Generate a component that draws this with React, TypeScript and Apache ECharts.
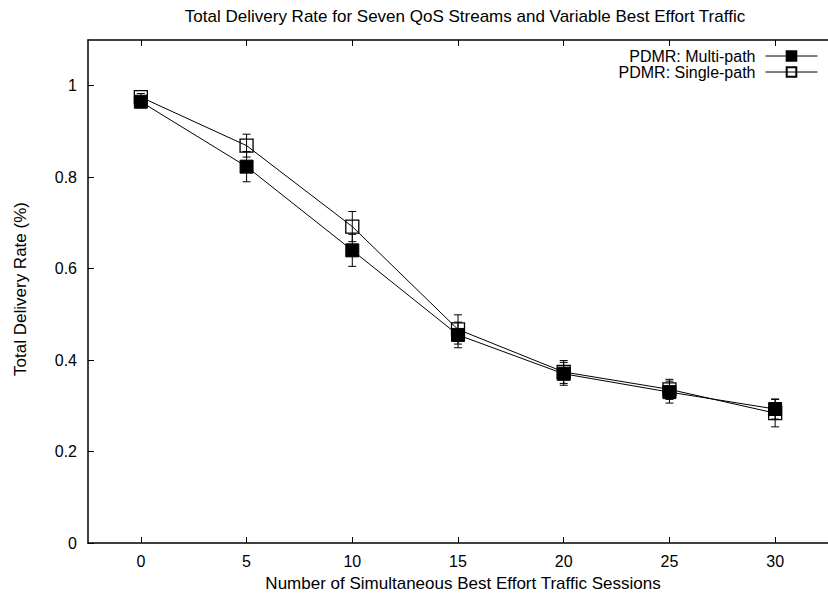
import React, { useEffect, useRef } from "react";
import * as echarts from "echarts";

// Number of simultaneous best-effort sessions (x values)
const sessions = [0, 5, 10, 15, 20, 25, 30];

// PDMR multi-path: mean delivery rate and half-width of its error bar
const multiPath = [0.965, 0.823, 0.64, 0.455, 0.37, 0.33, 0.293];
const multiPathErr = [0.008, 0.033, 0.035, 0.028, 0.025, 0.024, 0.022];

// PDMR single-path: mean delivery rate and half-width of its error bar
const singlePath = [0.975, 0.869, 0.692, 0.467, 0.374, 0.336, 0.284];
const singlePathErr = [0.008, 0.025, 0.033, 0.032, 0.025, 0.022, 0.03];

const xTicks = [0, 5, 10, 15, 20, 25, 30];
const yTicks = [0, 0.2, 0.4, 0.6, 0.8, 1];

const FONT = "Liberation Sans";
const GRID = { left: 88, top: 40, width: 750, height: 503 };

function errorBarSeries(name: string, values: number[], errs: number[], z: number) {
  return {
    type: "custom",
    name,
    z,
    silent: true,
    data: sessions.map((x, i) => [x, values[i] - errs[i], values[i] + errs[i]]),
    encode: { x: 0, y: [1, 2] },
    renderItem: (_params: any, api: any) => {
      const lo = api.coord([api.value(0), api.value(1)]);
      const hi = api.coord([api.value(0), api.value(2)]);
      const cap = 4;
      const style = { stroke: "#000", lineWidth: 1 };
      return {
        type: "group",
        children: [
          { type: "line", shape: { x1: lo[0], y1: lo[1], x2: hi[0], y2: hi[1] }, style },
          { type: "line", shape: { x1: lo[0] - cap, y1: lo[1], x2: lo[0] + cap, y2: lo[1] }, style },
          { type: "line", shape: { x1: hi[0] - cap, y1: hi[1], x2: hi[0] + cap, y2: hi[1] }, style },
        ],
      };
    },
  };
}

export default function App() {
  const ref = useRef<HTMLDivElement>(null);

  useEffect(() => {
    if (!ref.current) return;
    const chart = echarts.init(ref.current, null, { renderer: "svg" });

    const axisText = { fontFamily: FONT, fontSize: 16, color: "#000" };
    const frame = { show: true, onZero: false, lineStyle: { color: "#000", width: 1.5 } };
    const tick = { show: true, inside: true, length: 6, lineStyle: { color: "#000", width: 1 } };

    chart.setOption({
      animation: false,
      backgroundColor: "#fff",
      textStyle: { fontFamily: FONT },
      grid: { ...GRID, containLabel: false },
      legend: {
        orient: "vertical",
        right: 5,
        top: 43,
        align: "right",
        itemWidth: 52,
        itemHeight: 12,
        itemGap: 0,
        lineStyle: { width: 1 },
        textStyle: { ...axisText, lineHeight: 16, padding: [0, 5, 0, 0] },
        data: ["PDMR: Multi-path", "PDMR: Single-path"],
      },
      xAxis: [
        {
          type: "value",
          min: -2.5,
          max: 32.5,
          axisLine: frame,
          axisTick: { ...tick, customValues: xTicks },
          axisLabel: { ...axisText, margin: 10, customValues: xTicks },
          splitLine: { show: false },
        },
        {
          type: "value",
          position: "top",
          min: -2.5,
          max: 32.5,
          axisLine: frame,
          axisTick: { ...tick, customValues: xTicks },
          axisLabel: { show: false },
          splitLine: { show: false },
        },
      ],
      yAxis: {
        type: "value",
        min: 0,
        max: 1.1,
        axisLine: frame,
        axisTick: { ...tick, customValues: yTicks },
        axisLabel: { ...axisText, margin: 11, customValues: yTicks },
        splitLine: { show: false },
      },
      graphic: [
        {
          type: "text",
          x: 465,
          y: 16,
          style: {
            text: "Total Delivery Rate for Seven QoS Streams and Variable Best Effort Traffic",
            fontFamily: FONT,
            fontSize: 17,
            fill: "#000",
            align: "center",
            verticalAlign: "middle",
          },
        },
        {
          type: "text",
          x: 463,
          y: 583,
          style: {
            text: "Number of Simultaneous Best Effort Traffic Sessions",
            fontFamily: FONT,
            fontSize: 17,
            fill: "#000",
            align: "center",
            verticalAlign: "middle",
          },
        },
        {
          type: "text",
          x: 20,
          y: 289,
          rotation: Math.PI / 2,
          style: {
            text: "Total Delivery Rate (%)",
            fontFamily: FONT,
            fontSize: 17,
            fill: "#000",
            align: "center",
            verticalAlign: "middle",
          },
        },
      ],
      series: [
        errorBarSeries("single-err", singlePath, singlePathErr, 2),
        {
          type: "line",
          name: "PDMR: Single-path",
          z: 3,
          data: sessions.map((x, i) => [x, singlePath[i]]),
          symbol: "rect",
          symbolSize: 13,
          lineStyle: { color: "#000", width: 1 },
          itemStyle: { color: "rgba(255,255,255,0)", borderColor: "#000", borderWidth: 1.3 },
        },
        errorBarSeries("multi-err", multiPath, multiPathErr, 4),
        {
          type: "line",
          name: "PDMR: Multi-path",
          z: 5,
          data: sessions.map((x, i) => [x, multiPath[i]]),
          symbol: "rect",
          symbolSize: 13,
          lineStyle: { color: "#000", width: 1 },
          itemStyle: { color: "#000", borderColor: "#000", borderWidth: 1 },
        },
      ],
    });

    return () => chart.dispose();
  }, []);

  return (
    <div
      ref={ref}
      style={{ position: "fixed", left: 0, top: 0, width: 828, height: 598, background: "#fff" }}
    />
  );
}
